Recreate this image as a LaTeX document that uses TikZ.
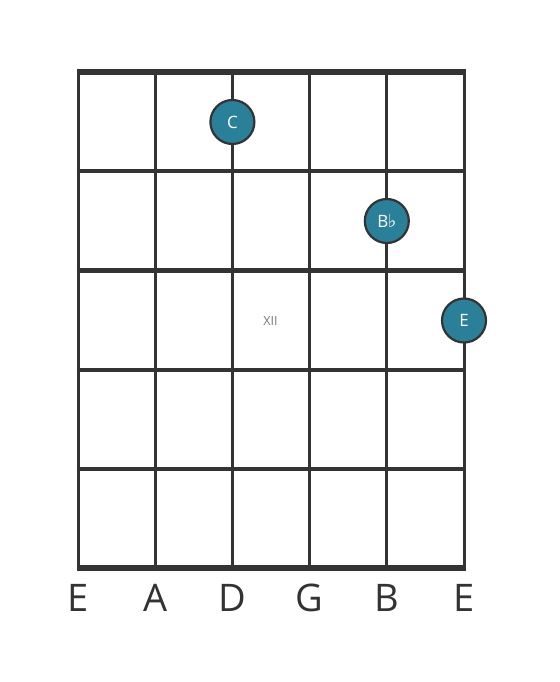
\documentclass[tikz,border=0pt]{standalone}
\usepackage{fontspec}
\setmainfont{Open Sans}
\newfontfamily\symfont{DejaVu Sans}
\definecolor{ink}{HTML}{333333}
\definecolor{teal}{HTML}{2A8099}
\definecolor{fretlbl}{HTML}{777777}
\begin{document}
\begin{tikzpicture}[x=1pt,y=-1pt,
  stringline/.style={draw=ink,line width=3pt},
  fretline/.style={draw=ink,line width=4.2pt},
  nutline/.style={draw=ink,line width=5.2pt},
  notedot/.style={circle,fill=teal,draw=ink,line width=2.2pt,minimum size=44pt,inner sep=0pt,text=white,font=\fontsize{17}{17}\selectfont},
  strlabel/.style={text=ink,font=\fontsize{38}{38}\selectfont,anchor=center},
  poslabel/.style={text=fretlbl,font=\fontsize{12.5}{12.5}\selectfont}]
\useasboundingbox (0,0) rectangle (559,682);
\fill[white] (0,0) rectangle (559,682);
\foreach \i/\x in {1/78,2/155.2,3/232.4,4/309.6,5/386.8,6/464}{
  \coordinate (s\i t) at (\x,72);
  \coordinate (s\i b) at (\x,568);
}
\foreach \j/\y in {0/72,1/171.2,2/270.4,3/369.6,4/468.8,5/568}{
  \coordinate (f\j l) at (76.5,\y);
  \coordinate (f\j r) at (465.5,\y);
}
\foreach \i in {1,...,6}{ \draw[stringline] (s\i t) -- (s\i b); }
\foreach \j in {1,2,3,4}{ \draw[fretline] (f\j l) -- (f\j r); }
\draw[nutline] (f0l) -- (f0r);
\draw[nutline] (f5l) -- (f5r);
\node[notedot] (nC) at (232.4,122) {C};
\node[notedot] (nBb) at (386.8,221) {B\kern-0.5pt\smash{\raisebox{-0.8pt}{\symfont\fontsize{18}{18}\selectfont ♭}}};
\node[notedot] (nE) at (464,320.5) {E};
\node[poslabel] (pos) at (270.5,321.5) {XII};
\foreach \i/\x/\n in {1/78/E,2/155.2/A,3/232.4/D,4/309.6/G,5/386.8/B,6/464/E}{
  \node[strlabel] (l\i) at (\x,598) {\n};
}
\end{tikzpicture}
\end{document}
